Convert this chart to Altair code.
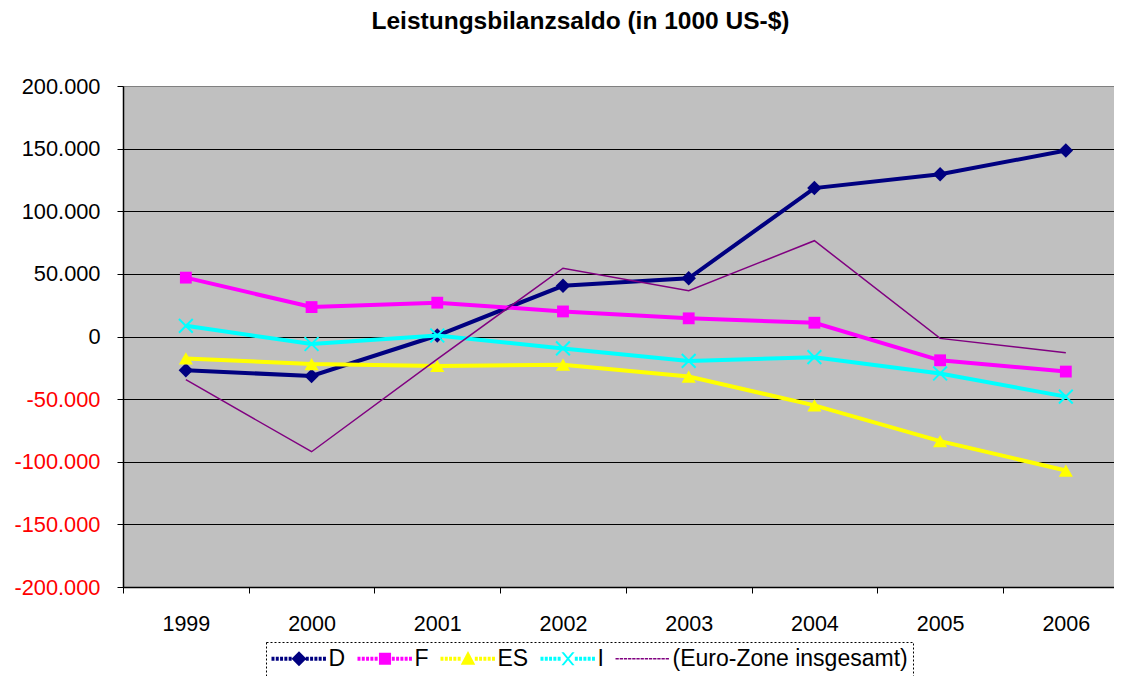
import altair as alt
import pandas as pd

# ---------------- data ----------------
years = [1999, 2000, 2001, 2002, 2003, 2004, 2005, 2006]
series_names = ["D", "F", "ES", "I", "(Euro-Zone insgesamt)"]
d_values = [-27000, -31500, 800, 40500, 46500, 118500, 129500, 148500]
f_values = [47000, 23500, 27000, 20000, 14500, 11000, -19000, -28000]
es_values = [-17500, -22000, -23500, -22500, -32000, -55000, -83500, -107000]
i_values = [8500, -6000, 800, -9500, -19500, -16500, -29500, -48000]
euro_values = [-34500, -92000, -18000, 54500, 36500, 76500, -1500, -13000]
y_ticks = [-200000, -150000, -100000, -50000, 0, 50000, 100000, 150000, 200000]
title_text = "Leistungsbilanzsaldo (in 1000 US-$)"

colors = ["#000080", "#FF00FF", "#FFFF00", "#00FFFF", "#800080"]

rows = []
for name, vals in zip(series_names, [d_values, f_values, es_values, i_values, euro_values]):
    for yr, v in zip(years, vals):
        rows.append({"year": yr, "value": v, "series": name})
df = pd.DataFrame(rows)

# ---------------- layout ----------------
FONT = "Liberation Sans"
BAND = 125.71          # pixels per year
W = 991
H = 501
x_scale = alt.Scale(domain=[1998.5, 1998.5 + W / BAND], nice=False, zero=False)
y_scale = alt.Scale(domain=[-200000, 200000], nice=False, zero=False)

x_axis = alt.Axis(
    values=years, format="d", title=None, grid=False,
    tickOffset=-BAND / 2, labelOffset=BAND / 2, labelFlush=False,
    labelFont=FONT, labelFontSize=21.5, labelColor="black", labelPadding=20,
    tickSize=6, tickColor="black", tickWidth=1,
    domainColor="black", domainWidth=1.5,
)
y_axis = alt.Axis(
    values=y_ticks, title=None, grid=True,
    gridColor={"condition": {"test": "datum.value >= 200000", "value": "#808080"}, "value": "#000000"},
    gridWidth=1,
    labelExpr="(datum.value < 0 ? '-' : '') + replace(format(abs(datum.value), ','), regexp(',', 'g'), '.')",
    labelColor={"condition": {"test": "datum.value < 0", "value": "#FF0000"}, "value": "#000000"},
    labelFont=FONT, labelFontSize=21.8, labelPadding=17,
    tickSize=6, tickColor="black", tickWidth=1,
    domainColor="black", domainWidth=1.5,
)

x_enc = alt.X("year:Q", scale=x_scale, axis=x_axis)
y_enc = alt.Y("value:Q", scale=y_scale, axis=y_axis)

marker_shapes = ["diamond", "square", "triangle-up", "M-1,-1L1,1M-1,1L1,-1", None]
marker_sizes = [210, 140, 200, 190, 0]
marker_filled = [True, True, True, False, True]
line_widths = [4, 4, 4, 4, 1.5]

layers = []
for k, name in enumerate(series_names):
    base = alt.Chart(df).transform_filter(alt.datum.series == name)
    layers.append(base.mark_line(color=colors[k], strokeWidth=line_widths[k]).encode(x=x_enc, y=y_enc))
    if marker_shapes[k]:
        layers.append(base.mark_point(
            shape=marker_shapes[k], size=marker_sizes[k], filled=marker_filled[k],
            color=colors[k], opacity=1, strokeWidth=2).encode(x=x_enc, y=y_enc))


# ---------------- legend symbols (custom paths) ----------------
def f3(v):
    return f"{v:.3f}"


def rect(x0, x1, y0, y1):
    return f"M{f3(x0)},{f3(y0)}H{f3(x1)}V{f3(y1)}H{f3(x0)}Z"


SH = 1.5  # shift of the drawn symbol to the right (in symbol units)


def dotted(half_len, thick, dot, gap, skip):
    p = ""
    x = -half_len
    while x + dot <= half_len + 1e-6:
        if x + dot < -skip or x > skip:
            p += rect(x + SH, x + dot + SH, -thick, thick)
        x += dot + gap
    return p


def shifted(points):
    return "M" + "L".join(f"{f3(px + SH)},{f3(py)}" for px, py in points) + "Z"


HL = 2.5
diamond = shifted([(0, -0.68), (0.68, 0), (0, 0.68), (-0.68, 0)])
square = shifted([(-0.55, -0.55), (0.55, -0.55), (0.55, 0.55), (-0.55, 0.55)])
triangle = shifted([(0, -0.7), (0.66, 0.55), (-0.66, 0.55)])
xw, xh, xd = 0.6, 0.6, 0.22
xcross = (shifted([(-xw, -xh), (-xw + xd, -xh), (xw, xh), (xw - xd, xh)])
          + shifted([(xw - xd, -xh), (xw, -xh), (-xw + xd, xh), (-xw, xh)]))
legend_paths = [
    dotted(HL, 0.18, 0.27, 0.12, 0.5) + diamond,
    dotted(HL, 0.18, 0.27, 0.12, 0.45) + square,
    dotted(HL, 0.18, 0.27, 0.12, 0.5) + triangle,
    dotted(HL, 0.18, 0.27, 0.12, 0.45) + xcross,
    dotted(HL, 0.07, 0.3, 0.08, -10),
]

legend_def = alt.Legend(
    title=None, orient="none", legendX=143, legendY=556, direction="horizontal",
    labelFont=FONT, labelFontSize=23, labelColor="black", labelLimit=400,
    labelOffset=34.5, columnPadding=11, padding=5,
    symbolSize=484, symbolStrokeWidth=0, symbolOpacity=1,
    strokeColor="black",
)
legend_layer = alt.Chart(df).transform_filter("false").mark_point(
    filled=True, opacity=1, size=484, strokeWidth=0
).encode(
    shape=alt.Shape("series:N", scale=alt.Scale(domain=series_names, range=legend_paths), legend=legend_def),
    color=alt.Color("series:N", scale=alt.Scale(domain=series_names, range=colors), legend=legend_def),
)
layers.append(legend_layer)

chart = alt.layer(*layers).properties(
    width=W, height=H,
    padding={"left": 115, "top": 78, "right": 0, "bottom": 89},
    autosize=alt.AutoSizeParams(type="none"),
    view=alt.ViewBackground(fill="#C0C0C0", strokeWidth=0),
    title=alt.TitleParams(
        text=title_text, font=FONT, fontSize=24.5, fontWeight="bold", color="black",
        anchor="middle", frame="group", offset=23, dx=-38, baseline="alphabetic",
    ),
).configure_view(
    fill="#C0C0C0", strokeWidth=0
).configure_legend(
    strokeDash=[2, 2], strokeWidth=1
)

chart.save("out.html", embed_options={"renderer": "svg", "actions": False})
